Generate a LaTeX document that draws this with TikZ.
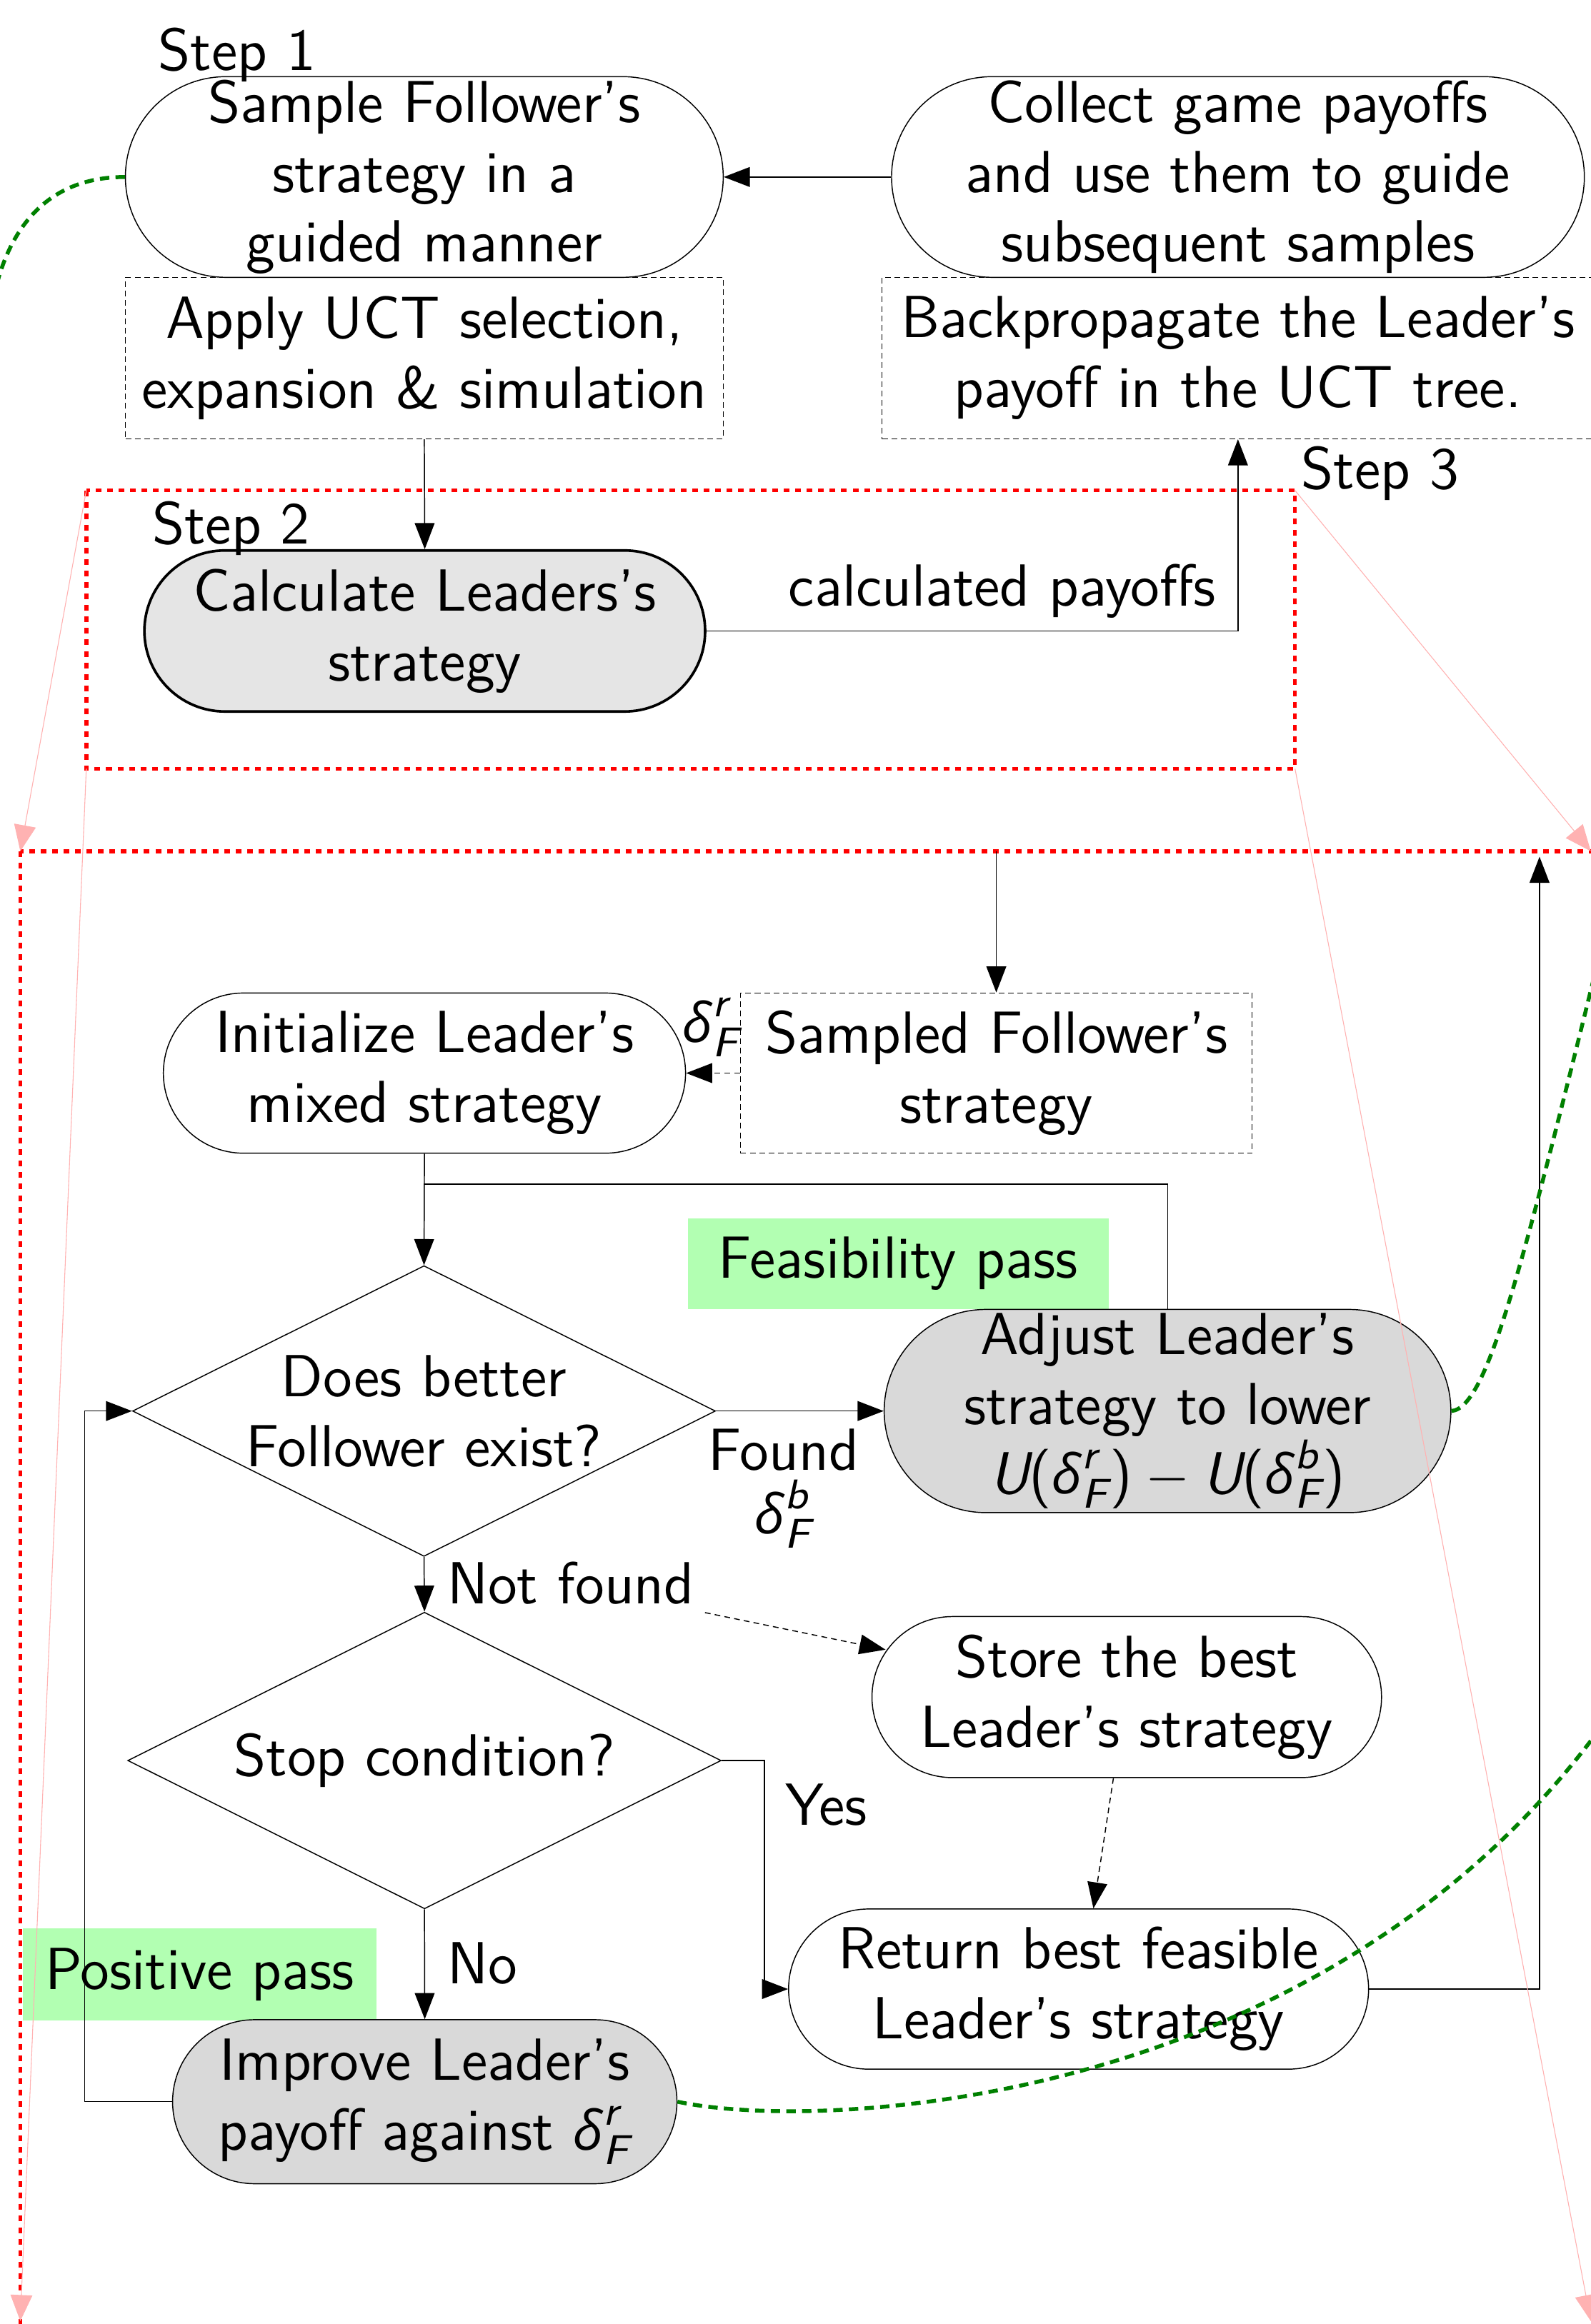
\documentclass[tikz,border=0pt]{standalone}
\usepackage{amsmath}
\usepackage{fontspec}
\renewcommand{\familydefault}{\sfdefault}
\newfontfamily\grksf{Open Sans}[Scale=0.92]
\newcommand{\gd}{\text{\grksf\itshape δ}}
\newcommand{\ti}[1]{\text{\itshape #1}}
\newcommand{\dl}[1]{\gd^{\ti{#1}}_{\ti{F}}}
\usetikzlibrary{shapes.geometric,arrows.meta,calc}
\begin{document}
\begin{tikzpicture}[x=0.01cm,y=-0.01cm,
  every node/.append style={font=\sffamily\fontsize{11.4}{13.4}\selectfont},
  ln/.style={draw=black, line width=0.2pt},
  arr/.style={-{Triangle[length=5pt,width=3.8pt]}},
  dsh/.style={dash pattern=on 1.1pt off 0.8pt},
  term/.style={draw=black, line width=0.2pt, rectangle, align=center, inner sep=0pt, fill=white},
  dbox/.style={draw=black, line width=0.2pt, dash pattern=on 1.1pt off 0.7pt, rectangle, align=center, inner sep=0pt},
  gbox/.style={fill=green!30, rectangle, inner sep=0pt},
  dia/.style={draw=black, line width=0.2pt, diamond, inner sep=0pt},
  redbox/.style={draw=red, line width=0.75pt, dash pattern=on 1.1pt off 1.1pt},
  pinkarr/.style={draw=red!30, line width=0.15pt, -{Triangle[length=5pt,width=4.2pt]}, fill=red!30},
  gcurve/.style={draw=green!50!black, line width=0.75pt, dash pattern=on 1.8pt off 1.2pt},
  lbl/.style={inner sep=0pt}
]
\useasboundingbox (0,0) rectangle (1073,1568);
\clip (0,0) rectangle (1073,1568);

% zoom frames
\coordinate (rA) at (58.2,330.9);
\coordinate (rB) at (873.5,330.9);
\coordinate (rC) at (58.2,518.7);
\coordinate (rD) at (873.5,518.7);
\coordinate (bA) at (13.7,574.3);
\coordinate (bB) at (1073,574.3);
\coordinate (bC) at (13.7,1566);
\coordinate (bD) at (1073,1566);
\draw[redbox] (rA) rectangle (rD);
\draw[redbox] (bA) rectangle (1076,1571);

% green labels
\node[gbox, minimum width=2.835cm, minimum height=0.61cm] (feas) at (605.9,852.5) {Feasibility pass};
\node[gbox, minimum width=2.386cm, minimum height=0.62cm] (pos) at (134.7,1332) {Positive pass};

% top part
\node[term, minimum width=4.03cm, minimum height=1.353cm, rounded corners=0.6765cm] (s1) at (286.2,119.4)
  {Sample Follower's\\strategy in a\\guided manner};
\node[term, minimum width=4.67cm, minimum height=1.353cm, rounded corners=0.6765cm] (collect) at (835,119.4)
  {Collect game payoffs\\and use them to guide\\subsequent samples};
\node[dbox, minimum width=4.03cm, minimum height=1.088cm] (apply) at (286.2,241.6)
  {Apply UCT selection,\\expansion \& simulation};
\node[dbox, minimum width=4.80cm, minimum height=1.088cm] (backprop) at (835,241.6)
  {Backpropagate the Leader's\\payoff in the UCT tree.};
\node[term, fill=gray!20, line width=0.5pt, minimum width=3.78cm, minimum height=1.086cm, rounded corners=0.543cm] (calc) at (286.5,425.7)
  {Calculate Leaders's\\strategy};
\node[lbl, anchor=base west] (step1) at (106,47.3) {Step 1};
\node[lbl, anchor=base west] (step2) at (102,367) {Step 2};
\node[lbl, anchor=base west] (step3) at (877,330) {Step 3};
\node[lbl, anchor=base] (cpay) at (676,409) {calculated payoffs};

% bottom part
\node[term, minimum width=3.52cm, minimum height=1.08cm, rounded corners=0.54cm] (init) at (286.3,724)
  {Initialize Leader's\\mixed strategy};
\node[dbox, minimum width=3.45cm, minimum height=1.08cm] (sampled) at (672,724)
  {Sampled Follower's\\strategy};
\node[lbl] (dr) at (480,693) {$\dl{r}$};
\node[dia, minimum width=3.93cm, minimum height=1.96cm] (d1) at (286,952) {};
\node[align=center, inner sep=0pt] (d1t) at (d1.center) {Does better\\Follower exist?};
\node[term, fill=gray!30, minimum width=3.82cm, minimum height=1.37cm, rounded corners=0.685cm] (adjust) at (787.5,952)
  {Adjust Leader's\\strategy to lower\\$\ti{U}\text{(}\dl{r}\text{)}-\ti{U}\text{(}\dl{b}\text{)}$};
\node[lbl, anchor=base] (found) at (528.6,992) {Found};
\node[lbl, anchor=base] (foundd) at (528.6,1035) {$\dl{b}$};
\node[dia, minimum width=4.0cm, minimum height=2.0cm] (d2) at (286.3,1187.8) {};
\node[inner sep=0pt] (d2t) at (d2.center) {Stop condition?};
\node[lbl, anchor=base west] (notfound) at (301,1082) {Not found};
\node[term, minimum width=3.435cm, minimum height=1.086cm, rounded corners=0.543cm] (store) at (760,1145)
  {Store the best\\Leader's strategy};
\node[term, minimum width=3.91cm, minimum height=1.08cm, rounded corners=0.54cm] (ret) at (727.5,1342)
  {Return best feasible\\Leader's strategy};
\node[lbl, anchor=base west] (yes) at (529,1231.5) {Yes};
\node[lbl, anchor=base west] (no) at (301,1338.5) {No};
\node[term, fill=gray!30, minimum width=3.40cm, minimum height=1.106cm, rounded corners=0.553cm] (improve) at (286.5,1418)
  {Improve Leader's\\payoff against $\dl{r}$};

% connectors top
\draw[ln,arr] (collect.west) -- (s1.east);
\draw[ln,arr] (apply.south) -- (calc.north);
\draw[ln,arr] (calc.east) -| (backprop.south);

% connectors bottom
\coordinate (topin) at (672,574.3);
\draw[ln,arr] (topin) -- (sampled.north);
\draw[ln,dsh,arr] (sampled.west) -- (init.east);
\draw[ln,arr] (init.south) -- (d1.north);
\coordinate (junc) at (286.3,799);
\draw[ln] (adjust.north) |- (junc);
\draw[ln,arr] (d1.east) -- (adjust.west);
\draw[ln,arr] (d1.south) -- (d2.north);
\coordinate (nfout) at (475.5,1088);
\coordinate (storein) at ($(store.west)+(9.5,-32)$);
\draw[ln,dsh,arr] (nfout) -- (storein);
\draw[ln,dsh,arr] ([xshift=-0.09cm]store.south) -- ([xshift=0.1cm]ret.north);
\coordinate (yesbend) at (515.5,1187.8);
\draw[ln,arr] (d2.east) -- (yesbend) |- (ret.west);
\coordinate (retup) at (1038.4,578);
\draw[ln,arr] (ret.east) -| (retup);
\draw[ln,arr] (d2.south) -- (improve.north);
\coordinate (fb) at (57.1,1418);
\draw[ln,arr] (improve.west) -- (fb) |- (d1.west);

% pink zoom lines
\draw[pinkarr] (rA) -- (bA);
\draw[pinkarr] (rB) -- (bB);
\draw[pinkarr] (rC) -- (bC);
\draw[pinkarr] (rD) -- (bD);

% green curves
\coordinate (gA) at (-3,195);
\coordinate (gB) at (1090,600);
\coordinate (gC) at (1110,1120);
\draw[gcurve] (s1.west) .. controls (35,119.4) and (8,150) .. (gA);
\draw[gcurve] (adjust.east) .. controls (1005,950) and (1030,840) .. (gB);
\draw[gcurve] (improve.east) .. controls (560,1440) and (930,1420) .. (gC);
\end{tikzpicture}
\end{document}
